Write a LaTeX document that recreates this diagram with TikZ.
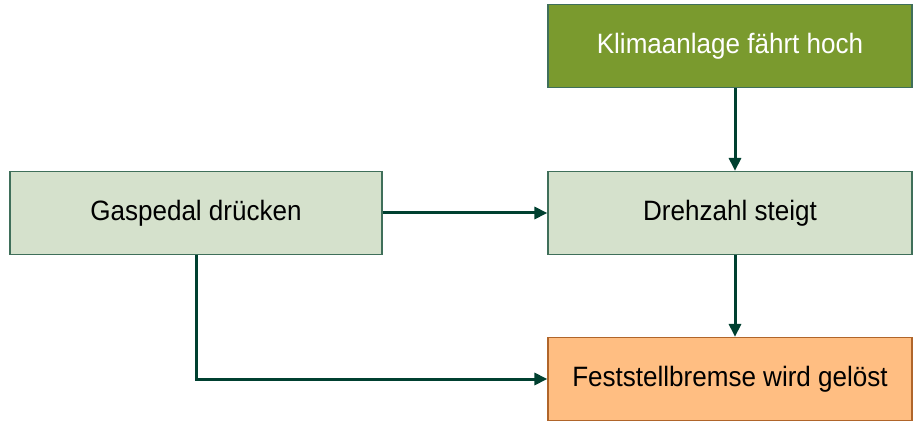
\documentclass[tikz,border=0pt]{standalone}
\usepackage{fontspec}
\setmainfont[FakeStretch=0.93]{Liberation Sans}
\definecolor{KAolive}{HTML}{7A9A2E}
\definecolor{KAsage}{HTML}{D5E1CC}
\definecolor{KAorange}{HTML}{FFBE82}
\definecolor{KAedge}{HTML}{3F6F5A}
\definecolor{KAbrown}{HTML}{B0652A}
\definecolor{KAarrow}{HTML}{004030}
\usetikzlibrary{arrows.meta, positioning}

\begin{document}
\begin{tikzpicture}[x=1pt, y=-1pt,
   box/.style={draw=KAedge, line width=1.2pt, minimum width=364pt, minimum height=83pt,
      inner sep=0pt, font=\fontsize{28}{30}\selectfont},
   flow/.style={KAarrow, line width=3pt, -{Triangle[length=13pt, width=12pt]}}]
   \useasboundingbox (0,0) rectangle (913,422);
   % boxes
   \node[box, fill=KAolive, text=white] (klima) at (730,46) {Klimaanlage fährt hoch};
   \node[box, fill=KAsage, minimum width=372pt] (gas) at (196,213) {Gaspedal drücken};
   \node[box, fill=KAsage] (drehzahl) at (730,213) {Drehzahl steigt};
   \node[box, fill=KAorange, draw=KAbrown] (bremse) at (730,379) {Feststellbremse wird gelöst};
   % connectors
   \draw[flow] (klima.south -| 735,0) -- (drehzahl.north -| 735,0);
   \draw[flow] (drehzahl.south -| 735,0) -- (bremse.north -| 735,0);
   \draw[flow] (gas.east) -- (drehzahl.west);
   \draw[flow] (gas.south) |- (bremse.west);
\end{tikzpicture}
\end{document}
